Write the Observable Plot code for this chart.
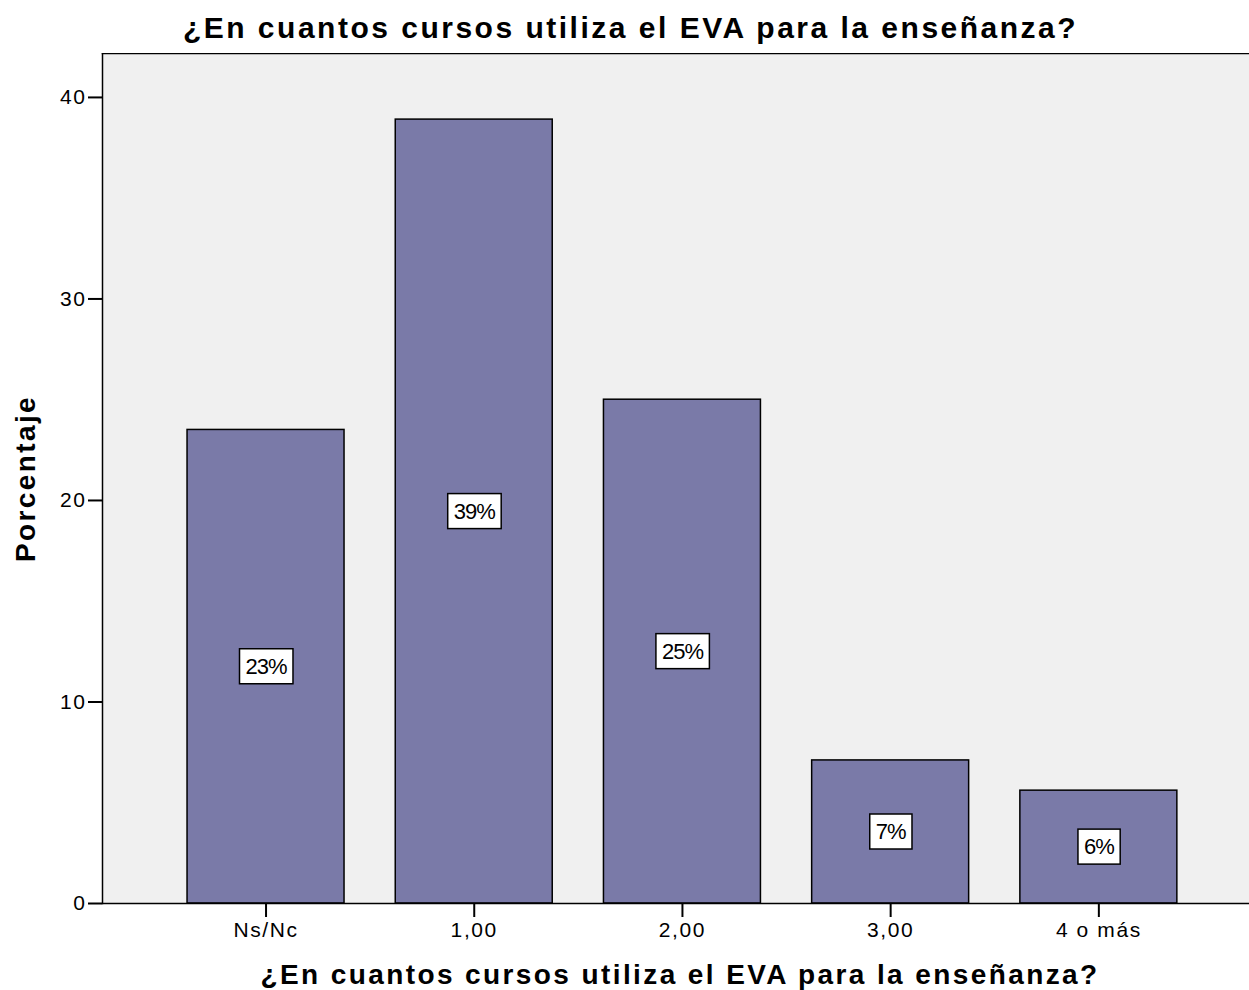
<!DOCTYPE html>
<html>
<head>
<meta charset="utf-8">
<script src="https://cdn.jsdelivr.net/npm/d3@7"></script>
<script src="https://cdn.jsdelivr.net/npm/@observablehq/plot@0.6"></script>
<style>
  body { margin: 0; background: #fff; overflow: hidden; font-family: "Liberation Sans", Arial, sans-serif; }
  #title { width: 1249px; height: 53px; box-sizing: border-box; padding-left: 12px; text-align: center;
           font-weight: bold; font-size: 30px; letter-spacing: 2.5px; line-height: 30px; padding-top: 13px; color: #000; white-space: nowrap; }
  g[aria-label="x-axis tick label"] text, g[aria-label="y-axis tick label"] text { letter-spacing: 1.6px; }
  g[aria-description="pct"] text { letter-spacing: -1px; }
  g[aria-description="axis-title"] text { letter-spacing: 2.4px; }
</style>
</head>
<body>
<div id="title">¿En cuantos cursos utiliza el EVA para la enseñanza?</div>
<div id="chart"></div>
<script>
const categories = ["Ns/Nc", "1,00", "2,00", "3,00", "4 o más"];
const percentages = [23.5, 38.9, 25.0, 7.1, 5.6];
const pctLabels = ["23%", "39%", "25%", "7%", "6%"];
const yTicks = [0, 10, 20, 30, 40];
const yMax = 42.18;
const xTitle = "¿En cuantos cursos utiliza el EVA para la enseñanza?";
const yTitle = "Porcentaje";

const data = categories.map((c, i) => ({cat: c, pct: percentages[i], label: pctLabels[i]}));

const chart = Plot.plot({
  width: 1249,
  height: 937,
  marginTop: 0,
  marginLeft: 102,
  marginRight: 0,
  marginBottom: 87,
  style: {fontFamily: "'Liberation Sans', Arial, sans-serif", background: "white", color: "black"},
  x: {domain: categories, paddingInner: 0.246, paddingOuter: 0.3775, align: 0.541, round: false, label: null},
  y: {domain: [0, yMax], label: null},
  marks: [
    Plot.frame({fill: "#f0f0f0"}),
    Plot.frame({anchor: "top", stroke: "black", strokeWidth: 1.5}),
    Plot.frame({anchor: "left", stroke: "black", strokeWidth: 1.5}),
    Plot.barY(data, {x: "cat", y: "pct", fill: "#7a7aa8", stroke: "black", strokeWidth: 1.5}),
    Plot.ruleY([0], {stroke: "black", strokeWidth: 1.5}),
    Plot.axisX({tickSize: 14, tickPadding: 5, fontSize: 21, strokeWidth: 2, label: null}),
    Plot.axisY({ticks: yTicks, tickSize: 14, tickPadding: 2, fontSize: 21, strokeWidth: 2, label: null}),
    Plot.text(data, {x: "cat", y: d => d.pct / 2, text: "label", fontSize: 22, fill: "black", ariaDescription: "pct"}),
    Plot.text([yTitle], {frameAnchor: "left", dx: -76, rotate: -90, textAnchor: "middle", lineAnchor: "middle", fontSize: 28, fontWeight: "bold", ariaDescription: "axis-title"}),
    Plot.text([xTitle], {frameAnchor: "bottom", dx: 4, dy: 72, textAnchor: "middle", lineAnchor: "middle", fontSize: 28, fontWeight: "bold", ariaDescription: "axis-title"})
  ]
});

document.getElementById("chart").append(chart);

const NS = "http://www.w3.org/2000/svg";
chart.querySelectorAll('g[aria-description="pct"] text').forEach(t => {
  const b = t.getBBox();
  const r = document.createElementNS(NS, "rect");
  const padX = 6, h = 35;
  r.setAttribute("x", b.x - padX);
  r.setAttribute("y", b.y + b.height / 2 - h / 2);
  r.setAttribute("width", b.width + 2 * padX);
  r.setAttribute("height", h);
  r.setAttribute("fill", "white");
  r.setAttribute("stroke", "black");
  r.setAttribute("stroke-width", 1.5);
  const tr = t.getAttribute("transform");
  if (tr) r.setAttribute("transform", tr);
  t.parentNode.insertBefore(r, t);
});
</script>
</body>
</html>
